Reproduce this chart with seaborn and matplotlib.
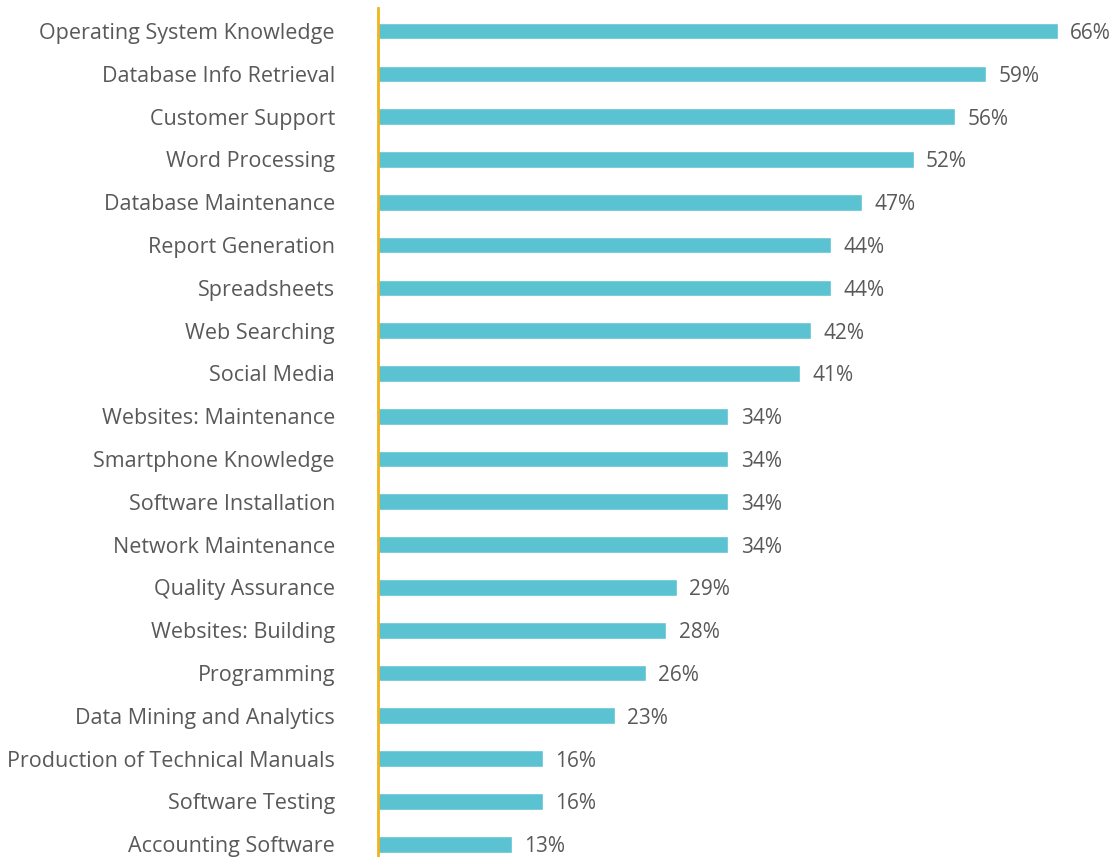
import pandas as pd
import seaborn as sns
import matplotlib.pyplot as plt

skills = ['Operating System Knowledge', 'Database Info Retrieval', 'Customer Support',
          'Word Processing', 'Database Maintenance', 'Report Generation', 'Spreadsheets',
          'Web Searching', 'Social Media', 'Websites: Maintenance', 'Smartphone Knowledge',
          'Software Installation', 'Network Maintenance', 'Quality Assurance',
          'Websites: Building', 'Programming', 'Data Mining and Analytics',
          'Production of Technical Manuals', 'Software Testing', 'Accounting Software']
pct = [66, 59, 56, 52, 47, 44, 44, 42, 41, 34, 34, 34, 34, 29, 28, 26, 23, 16, 16, 13]

df = pd.DataFrame({'skill': skills, 'pct': pct})

sns.set_style('white')
plt.rcParams['font.family'] = ['Open Sans', 'DejaVu Sans']

fig = plt.figure(figsize=(11.18, 8.57), dpi=100)
# axes placed so the vertical axis line sits where the reference has it
ax = fig.add_axes([378 / 1118, 0, (1058 - 378) / 1118, 849 / 857])

sns.barplot(data=df, y='skill', x='pct', orient='h', color='#5BC2D1',
            saturation=1, width=0.39, ax=ax)

ax.set_xlim(0, 66)
ax.set_ylim(19.3, -0.54)
for s in ['top', 'right', 'bottom']:
    ax.spines[s].set_visible(False)
ax.spines['left'].set_color('#F0B41C')
ax.spines['left'].set_linewidth(2)
ax.set_xticks([])
ax.set_xlabel('')
ax.set_ylabel('')
ax.tick_params(axis='y', length=0, pad=31, labelsize=15.5, labelcolor='#595959')

# percentage labels to the right of each bar
for i, v in enumerate(pct):
    ax.text(v + 1.2, i, f'{v}%', va='center_baseline', ha='left', fontsize=15,
            color='#595959', clip_on=False)

fig.savefig('out.png', dpi=100)
